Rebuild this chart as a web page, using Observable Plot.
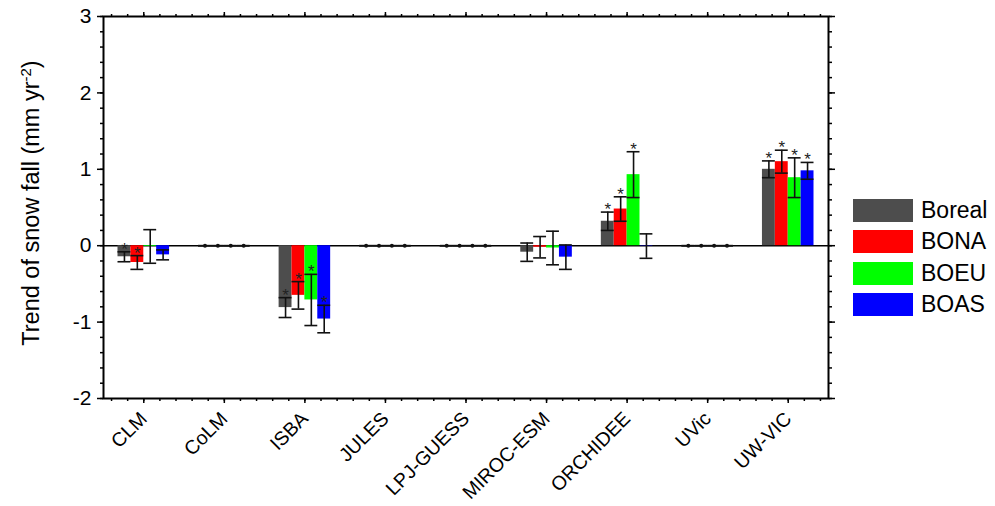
<!DOCTYPE html>
<html>
<head>
<meta charset="utf-8">
<script src="https://cdn.jsdelivr.net/npm/d3@7"></script>
<script src="https://cdn.jsdelivr.net/npm/@observablehq/plot@0.6"></script>
<style>
  html, body { margin: 0; padding: 0; background: #fff; }
  #chart { position: relative; width: 995px; height: 506px; font-family: "Liberation Sans", Arial, sans-serif; }
  #legend { position: absolute; left: 853px; top: 195px; }
  .item { display: flex; align-items: center; height: 31.3px; }
  .swatch { width: 60px; height: 23px; margin-right: 8px; }
  .item span { font-size: 23px; color: #000; }
</style>
</head>
<body>
<div id="chart"><div id="legend"></div></div>
<script>
// Models and boreal regions
const models = ["CLM", "CoLM", "ISBA", "JULES", "LPJ-GUESS", "MIROC-ESM", "ORCHIDEE", "UVic", "UW-VIC"];
const regions = ["Boreal", "BONA", "BOEU", "BOAS"];
const regionColors = ["#4d4d4d", "#ff0000", "#00ff00", "#0000ff"];

// Snowfall trend (mm yr-2) per model, one array per region
const trendBoreal = [-0.145, 0, -0.81, 0, 0, -0.085, 0.32, 0, 1.00];
const trendBONA   = [-0.22,  0, -0.65, 0, 0, -0.02,  0.48, 0, 1.10];
const trendBOEU   = [-0.01,  0, -0.71, 0, 0, -0.03,  0.93, 0, 0.89];
const trendBOAS   = [-0.12,  0, -0.96, 0, 0, -0.15, -0.005, 0, 0.98];

// Error bar half-lengths
const errBoreal = [0.065, 0, 0.13,  0, 0, 0.12, 0.12, 0, 0.11];
const errBONA   = [0.09,  0, 0.18,  0, 0, 0.14, 0.16, 0, 0.15];
const errBOEU   = [0.22,  0, 0.335, 0, 0, 0.22, 0.30, 0, 0.26];
const errBOAS   = [0.065, 0, 0.18,  0, 0, 0.16, 0.16, 0, 0.11];

// Significant trends (marked with *)
const sigBoreal = [1, 0, 1, 0, 0, 0, 1, 0, 1];
const sigBONA   = [1, 0, 1, 0, 0, 0, 1, 0, 1];
const sigBOEU   = [0, 0, 1, 0, 0, 0, 1, 0, 1];
const sigBOAS   = [0, 0, 1, 0, 0, 0, 0, 0, 1];

const yTicks = [-2, -1, 0, 1, 2, 3];

const trends = [trendBoreal, trendBONA, trendBOEU, trendBOAS];
const errs = [errBoreal, errBONA, errBOEU, errBOAS];
const sigs = [sigBoreal, sigBONA, sigBOEU, sigBOAS];

// Bar width as a fraction of one model slot
const barW = 0.16;

const rows = [];
models.forEach((m, mi) => {
  regions.forEach((r, ri) => {
    const xc = mi + (ri - 1.5) * barW;
    rows.push({
      model: m, region: r, xc,
      x1: xc - barW / 2, x2: xc + barW / 2,
      value: trends[ri][mi], err: errs[ri][mi], sig: sigs[ri][mi] === 1
    });
  });
});
const lo = d => d.value - d.err;
const hi = d => d.value + d.err;

const minorX = d3.range(-2, 43).map(d => d / 5);
const minorY = d3.range(-10, 16).map(d => d / 5);
const majorX = d3.range(models.length);

const plot = Plot.plot({
  width: 995,
  height: 506,
  marginLeft: 103,
  marginRight: 167,
  marginTop: 16,
  marginBottom: 108,
  style: { fontFamily: "'Liberation Sans', Arial, sans-serif", color: "#000", background: "#fff" },
  x: { type: "linear", domain: [-0.5, models.length - 0.5], axis: null },
  y: { domain: [-2, 3], axis: null },
  color: { domain: regions, range: regionColors },
  marks: [
    Plot.ruleY([0], { stroke: "#000", strokeWidth: 1.5 }),
    Plot.rectY(rows, { x1: "x1", x2: "x2", y1: 0, y2: "value", fill: "region" }),
    Plot.ruleX(rows, { x: "xc", y1: lo, y2: hi, stroke: "#111", strokeWidth: 1.6 }),
    Plot.ruleY(rows, { y: lo, x1: "x1", x2: "x2", stroke: "#111", strokeWidth: 1.6 }),
    Plot.ruleY(rows, { y: hi, x1: "x1", x2: "x2", stroke: "#111", strokeWidth: 1.6 }),
    Plot.dot(rows.filter(d => d.err === 0), { x: "xc", y: "value", r: 2, fill: "#111" }),
    Plot.text(rows.filter(d => d.sig), { x: "xc", y: hi, text: () => "*", lineAnchor: "bottom", dy: 3, fontSize: 17, fill: "#222" }),
    // left axis
    Plot.axisY({ anchor: "left", label: null, ticks: yTicks, tickSize: 6, tickPadding: 6, strokeWidth: 1.5, fontSize: 21, tickFormat: d => String(d) }),
    Plot.axisY({ anchor: "left", label: null, ticks: minorY, tickSize: 3, strokeWidth: 1.5, text: null }),
    // right axis
    Plot.axisY({ anchor: "right", label: null, ticks: yTicks, tickSize: 6, strokeWidth: 1.5, text: null }),
    Plot.axisY({ anchor: "right", label: null, ticks: minorY, tickSize: 3, strokeWidth: 1.5, text: null }),
    // bottom axis with model names
    Plot.axisX({ anchor: "bottom", label: null, ticks: majorX, tickSize: 5, tickPadding: 12, strokeWidth: 1.5, tickRotate: -45, fontSize: 19.5, tickFormat: i => models[i] }),
    Plot.axisX({ anchor: "bottom", label: null, ticks: minorX, tickSize: 3, strokeWidth: 1.5, text: null }),
    // top axis
    Plot.axisX({ anchor: "top", label: null, ticks: majorX, tickSize: 5, strokeWidth: 1.5, text: null }),
    Plot.axisX({ anchor: "top", label: null, ticks: minorX, tickSize: 3, strokeWidth: 1.5, text: null }),
    Plot.frame({ stroke: "#000", strokeWidth: 2 })
  ]
});

// y-axis title with superscript exponent
const svg = d3.select(plot);
const title = svg.append("text")
  .attr("transform", "translate(39,203) rotate(-90)")
  .attr("text-anchor", "middle")
  .attr("font-size", 23.5)
  .attr("fill", "#000");
title.append("tspan").text("Trend of snow fall (mm yr");
title.append("tspan").attr("baseline-shift", "super").attr("font-size", 15).text("-2");
title.append("tspan").text(")");

document.getElementById("chart").prepend(plot);

// legend built from the color scale
const color = plot.scale("color");
const legend = d3.select("#legend");
color.domain.forEach((r, i) => {
  const item = legend.append("div").attr("class", "item");
  item.append("div").attr("class", "swatch").style("background", color.range[i]);
  item.append("span").text(r);
});
</script>
</body>
</html>
